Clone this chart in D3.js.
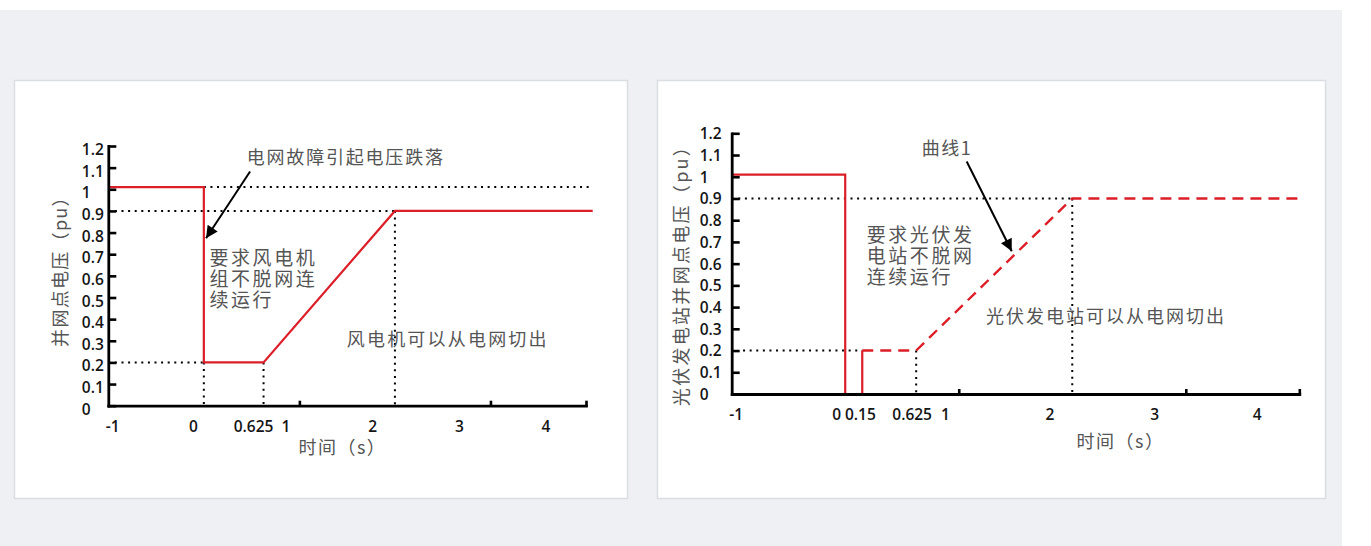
<!DOCTYPE html>
<html>
<head>
<meta charset="utf-8">
<script src="https://cdn.jsdelivr.net/npm/d3@7"></script>
<style>
html, body { margin:0; padding:0; background:#fff; }
svg { display:block; }
</style>
</head>
<body>
<svg id="chart" width="1371" height="546"></svg>
<script>
// ---- data ----
const timeDomain = [-1, 4];
const voltDomain = [0, 1.2];
const voltTicks = [0, 0.1, 0.2, 0.3, 0.4, 0.5, 0.6, 0.7, 0.8, 0.9, 1, 1.1, 1.2];
const voltTickText = ["0","0.1","0.2","0.3","0.4","0.5","0.6","0.7","0.8","0.9","1","1.1","1.2"];
const timeTicks = [1, 3, 4];

// wind turbine LVRT curve
const windTime = [-1, 0, 0, 0.625, 2, 4.07];
const windVolt = [1.01, 1.01, 0.2, 0.2, 0.9, 0.9];
// dotted guides [t1, v1, t2, v2]
const windGuides = [[0,1.01,4.07,1.01], [-1,0.9,2,0.9], [-1,0.2,0,0.2], [0,0.2,0,0], [0.625,0.2,0.625,0], [2,0.9,2,0]];
const windTimeLabels = [-1, 0, 0.625, 1, 2, 3, 4];
const windTimeText = ["-1","0","0.625","1","2","3","4"];

// PV station LVRT curve
const pvTime = [-1, 0, 0, 0.15, 0.15];
const pvVolt = [1.01, 1.01, 0, 0, 0.2];
const pvDashTime = [0.15, 0.625, 2, 4];
const pvDashVolt = [0.2, 0.2, 0.9, 0.9];
const pvGuides = [[-1,0.9,2,0.9], [-0.9,0.2,0.15,0.2], [0.625,0.2,0.625,0], [2,0.9,2,0]];
const pvTimeLabels = [-1, 0, 0.15, 0.625, 1, 2, 3, 4];
const pvTimeText = ["-1","0","0.15","0.625","1","2","3","4"];

const svg = d3.select("#chart");
const RED = "#dc1e28";
const GRAY = "#555";
const CJK = "'Noto Sans CJK SC', 'Noto Sans', sans-serif";
const NUM = "'Open Sans', 'Noto Sans', sans-serif";

// page background + panels
svg.append("rect").attr("x",0).attr("y",10).attr("width",1342).attr("height",536).attr("fill","#eef0f3");

svg.append("defs").append("marker")
    .attr("id","arrow")
    .attr("viewBox","0 0 10 10")
    .attr("refX",10).attr("refY",5)
    .attr("markerUnits","userSpaceOnUse")
    .attr("markerWidth",17).attr("markerHeight",12)
    .attr("orient","auto")
    .append("path").attr("d","M0,0 L10,5 L0,10 z").attr("fill","#000");

function drawChart(cfg) {
    svg.append("rect")
        .attr("x",cfg.panel[0]).attr("y",cfg.panel[1])
        .attr("width",cfg.panel[2]).attr("height",cfg.panel[3])
        .attr("fill","#fff").attr("stroke","#dadde2").attr("stroke-width",1.5);

    const x = d3.scaleLinear().domain(timeDomain).range([cfg.x0, cfg.x1]);
    const y = d3.scaleLinear().domain(voltDomain).range([cfg.y0, cfg.y1]);
    const xl = d3.scaleLinear().domain(timeDomain).range([cfg.x0+4.4, cfg.x1-40]);
    const g = svg.append("g");

    // dotted guides
    g.selectAll(".guide").data(cfg.guides).join("line")
        .attr("x1",d=>x(d[0])).attr("y1",d=>y(d[1]))
        .attr("x2",d=>x(d[2])).attr("y2",d=>y(d[3]))
        .attr("stroke","#000").attr("stroke-width",2)
        .attr("stroke-dasharray","2,4.6");

    const line = d3.line().x(d=>x(d[0])).y(d=>y(d[1]));

    // curves
    g.append("path")
        .attr("d", line(cfg.time.map((t,i)=>[t, cfg.volt[i]])))
        .attr("fill","none").attr("stroke",RED).attr("stroke-width",2.2);
    if (cfg.dashTime) {
        g.append("path")
            .attr("d", line(cfg.dashTime.map((t,i)=>[t, cfg.dashVolt[i]])))
            .attr("fill","none").attr("stroke",RED).attr("stroke-width",2.4)
            .attr("stroke-dasharray","11,7");
    }

    // y axis
    const ya = g.append("g").attr("transform",`translate(${cfg.x0},0)`)
        .call(d3.axisLeft(y).tickValues(voltTicks).tickSize(-8).tickSizeOuter(0)
            .tickFormat((d,i)=>voltTickText[i]));
    ya.select(".domain").attr("stroke","#000").attr("stroke-width",2.8).attr("stroke-linecap","square");
    ya.selectAll(".tick line").attr("stroke","#000").attr("stroke-width",2.6);
    ya.selectAll(".tick text")
        .attr("x",-cfg.yLabelOff).attr("dy",cfg.yLabelDy)
        .attr("text-anchor","start")
        .style("font-family",NUM).style("font-size","15.5px").style("font-weight",600).attr("fill","#151515");

    // x axis
    const xa = g.append("g").attr("transform",`translate(0,${cfg.y0})`)
        .call(d3.axisBottom(x).tickValues(timeTicks).tickSize(-5).tickSizeOuter(0).tickFormat(""));
    xa.select(".domain").attr("stroke","#000").attr("stroke-width",2.8).attr("stroke-linecap","square");
    xa.selectAll(".tick line").attr("stroke","#000").attr("stroke-width",2.6);

    // x tick labels (placed on their own compressed scale, as in the source figure)
    g.selectAll(".xlab").data(cfg.timeLabels).join("text")
        .attr("x",(d,i)=>xl(d)+cfg.nudge[i]).attr("y",cfg.y0+21)
        .attr("dy","0.35em").attr("text-anchor","middle")
        .style("font-family",NUM).style("font-size","15.5px").style("font-weight",600)
        .attr("fill","#151515")
        .text((d,i)=>cfg.timeText[i]);

    // axis titles
    g.append("text")
        .attr("x",cfg.x0+(cfg.x1-cfg.x0)*cfg.xTitlePos).attr("y",cfg.y0+cfg.xTitleOff)
        .attr("dy","0.35em").attr("text-anchor","middle")
        .style("font-family",CJK).style("font-size","18px").style("letter-spacing","1.5px")
        .attr("fill",GRAY).text("时间（s）");
    g.append("text")
        .attr("transform",`translate(${cfg.x0-cfg.yTitleOff},${cfg.yTitleY}) rotate(-90)`)
        .attr("dy","0.35em").attr("text-anchor","middle")
        .style("font-family",CJK).style("font-size","18px").style("letter-spacing",cfg.yTitleLs)
        .attr("fill",GRAY).text(cfg.yTitle);

    // annotations
    cfg.notes.forEach(n=>{
        const t = g.append("text")
            .attr("x",x(n.t)).attr("y",y(n.v))
            .style("font-family",CJK).style("font-size",n.fs).style("letter-spacing",n.ls)
            .attr("fill",GRAY);
        n.lines.forEach((s,i)=>t.append("tspan").attr("x",x(n.t)).attr("dy",i===0?"0.35em":"21px").text(s));
    });
    g.append("line")
        .attr("x1",x(cfg.arrow[0])).attr("y1",y(cfg.arrow[1]))
        .attr("x2",x(cfg.arrow[2])).attr("y2",y(cfg.arrow[3]))
        .attr("stroke","#000").attr("stroke-width",2)
        .attr("marker-end","url(#arrow)");
}

drawChart({
    panel:[14.5,80.5,613,418],
    x0:108.3, x1:586, y0:405.7, y1:146,
    time:windTime, volt:windVolt, guides:windGuides,
    timeLabels:windTimeLabels, timeText:windTimeText, nudge:[0,-6,0,0,0,0,0],
    yLabelOff:26.5, yLabelDy:"0.55em",
    xTitlePos:0.49, xTitleOff:42,
    yTitle:"并网点电压（pu）", yTitleOff:48, yTitleY:267, yTitleLs:"1.3px",
    notes:[
        {t:0.449, v:1.145, lines:["电网故障引起电压跌落"], fs:"18px", ls:"1.8px"},
        {t:0.058, v:0.683, lines:["要求风电机","组不脱网连","续运行"], fs:"19px", ls:"2.6px"},
        {t:1.496, v:0.307, lines:["风电机可以从电网切出"], fs:"18px", ls:"2.2px"}
    ],
    arrow:[0.484, 1.082, 0.023, 0.774]
});

drawChart({
    panel:[657.5,80.5,668,418],
    x0:731.7, x1:1299.3, y0:394, y1:133.3,
    time:pvTime, volt:pvVolt, dashTime:pvDashTime, dashVolt:pvDashVolt, guides:pvGuides,
    timeLabels:pvTimeLabels, timeText:pvTimeText, nudge:[0,-4,4,6,0,0,0,-2],
    yLabelOff:32, yLabelDy:"0.35em",
    xTitlePos:0.685, xTitleOff:48,
    yTitle:"光伏发电站并网点电压（pu）", yTitleOff:50, yTitleY:271, yTitleLs:"2.3px",
    notes:[
        {t:0.674, v:1.131, lines:["曲线1"], fs:"18px", ls:"1.5px"},
        {t:0.189, v:0.732, lines:["要求光伏发","电站不脱网","连续运行"], fs:"19px", ls:"2.6px"},
        {t:1.24, v:0.356, lines:["光伏发电站可以从电网切出"], fs:"18px", ls:"2px"}
    ],
    arrow:[1.07, 1.07, 1.467, 0.657]
});
</script>
</body>
</html>
